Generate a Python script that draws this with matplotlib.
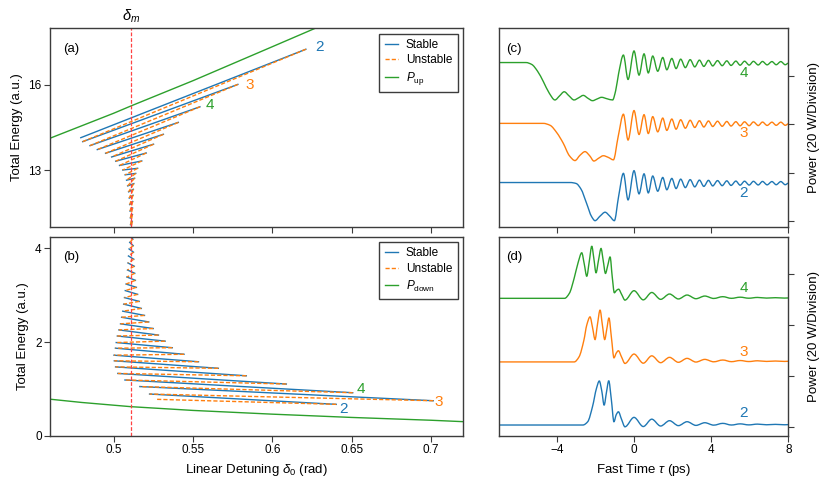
import numpy as np
import matplotlib
matplotlib.use('Agg')
import matplotlib.pyplot as plt
from matplotlib.lines import Line2D
from matplotlib.path import Path
from matplotlib.patches import PathPatch

plt.rcParams['font.family'] = ['Liberation Sans', 'DejaVu Sans']
plt.rcParams['mathtext.fontset'] = 'custom'
plt.rcParams['mathtext.rm'] = 'Liberation Sans'
plt.rcParams['mathtext.it'] = 'Liberation Sans:italic'
plt.rcParams['font.size'] = 8.5

#detuning where the snake collapses
delta_m = 0.5113

#panel (a): turning points of the upper snake (left tips / right tips)
a_left_x = [0.4794, 0.4806, 0.4852, 0.4898, 0.4950, 0.4988, 0.5014, 0.5038, 0.5058, 0.5073,
            0.5082, 0.5089, 0.5095, 0.5099, 0.5102, 0.5104, 0.5106, 0.5107, 0.5108]
a_left_y = [14.14, 14.00, 13.86, 13.72, 13.59, 13.46, 13.31, 13.16, 13.00, 12.83,
            12.64, 12.44, 12.23, 12.01, 11.78, 11.55, 11.31, 11.07, 10.83]
a_right_x = [0.6211, 0.5783, 0.5544, 0.5408, 0.5314, 0.5252, 0.5206, 0.5178, 0.5152, 0.5140,
             0.5133, 0.5128, 0.5125, 0.5123, 0.5121, 0.5120, 0.5119, 0.5118]
a_right_y = [17.26, 16.02, 15.23, 14.68, 14.26, 13.91, 13.60, 13.32, 13.06, 12.88,
             12.71, 12.52, 12.32, 12.11, 11.89, 11.66, 11.43, 11.19]
p_up_x = [0.46, 0.50, 0.511, 0.55, 0.60, 0.627]
p_up_y = [14.12, 15.0, 15.26, 16.15, 17.35, 18.0]

#panel (b): turning points of the lower snake
b_left_x = [0.5105, 0.5102, 0.5098, 0.5094, 0.5091, 0.5088, 0.5084, 0.5079, 0.5074, 0.5069,
            0.5064, 0.5058, 0.5051, 0.5044, 0.5034, 0.5024, 0.5017, 0.5012, 0.5003, 0.5005,
            0.5013, 0.5027, 0.5072, 0.5166, 0.5227, 0.5273]
b_left_y = [4.27, 4.13, 3.99, 3.84, 3.69, 3.54, 3.39, 3.24, 3.10, 2.95,
            2.81, 2.66, 2.53, 2.39, 2.26, 2.13, 1.99, 1.87, 1.72, 1.60,
            1.47, 1.33, 1.19, 1.05, 0.89, 0.777]
b_right_x = [0.5122, 0.5124, 0.5126, 0.5128, 0.5131, 0.5134, 0.5138, 0.5144, 0.5152, 0.5162,
             0.5175, 0.5195, 0.5222, 0.5250, 0.5283, 0.5325, 0.5370, 0.5444, 0.5535, 0.5660,
             0.5836, 0.6088, 0.6506, 0.7013, 0.6402]
b_right_y = [4.20, 4.06, 3.92, 3.77, 3.62, 3.47, 3.32, 3.17, 3.02, 2.87,
             2.72, 2.57, 2.43, 2.29, 2.15, 2.02, 1.88, 1.74, 1.58, 1.44,
             1.28, 1.104, 0.918, 0.747, 0.670]
p_down_x = [0.46, 0.48, 0.511, 0.55, 0.60, 0.65, 0.70, 0.72]
p_down_y = [0.78, 0.71, 0.62, 0.54, 0.46, 0.39, 0.33, 0.30]

#panel (c): dark pulse profiles (W), the oscillating tail is read at peaks and troughs
c_pk_t = [-0.55, 0, 0.52, 0.97, 1.49, 1.96, 2.42, 2.91, 3.39, 3.86, 4.33, 4.81, 5.28, 5.73, 6.19, 6.66, 7.15, 7.61]
c_tr_t = [-0.31, 0.26, 0.74, 1.23, 1.70, 2.18, 2.66, 3.15, 3.62, 4.08, 4.57, 5.03, 5.50, 5.97, 6.44, 6.90, 7.37, 7.84]
c2_head_t = [-7.0, -3.3, -3.0, -2.75, -2.46, -2.2, -2.02, -1.76, -1.5, -1.26, -1.02, -0.8]
c2_head_p = [15.9, 15.9, 15.5, 13.2, 7.3, 1.8, 0.1, 2.0, 3.6, 2.0, 0.1, 10.1]
c2_pk = [19.7, 20.8, 19.5, 18.6, 18.0, 17.6, 17.3, 17.1, 16.9, 16.8, 16.7, 16.6, 16.5, 16.45, 16.4, 16.35, 16.3, 16.3]
c2_tr = [8.7, 11.2, 11.6, 12.3, 12.9, 13.4, 13.8, 14.1, 14.3, 14.5, 14.6, 14.7, 14.8, 14.85, 14.9, 14.95, 15.0, 15.0]
c2_end = 15.6
c3_head_t = [-7.0, -4.7, -4.35, -4.0, -3.67, -3.35, -3.06, -2.8, -2.54, -2.3, -2.08, -1.83, -1.59, -1.33, -1.07, -0.82]
c3_head_p = [40.4, 40.4, 39.6, 36.5, 32.2, 27.0, 25.0, 27.2, 28.7, 27.0, 24.8, 26.0, 27.0, 26.3, 25.3, 35.0]
c3_pk = [44.2, 45.7, 44.0, 43.2, 42.6, 42.2, 41.9, 41.7, 41.5, 41.4, 41.3, 41.2, 41.1, 41.05, 41.0, 40.95, 40.9, 40.9]
c3_tr = [33.5, 35.8, 36.2, 36.9, 37.5, 38.0, 38.4, 38.7, 38.9, 39.1, 39.2, 39.3, 39.4, 39.45, 39.5, 39.55, 39.6, 39.6]
c3_end = 40.2
c4_head_t = [-7.0, -5.6, -5.3, -5.0, -4.7, -4.4, -4.1, -3.86, -3.62, -3.37, -3.11, -2.87, -2.63, -2.39, -2.15,
             -1.92, -1.68, -1.4, -1.11, -0.95, -0.8]
c4_head_p = [65.6, 65.6, 64.8, 62.0, 57.7, 53.0, 50.1, 51.8, 53.5, 51.8, 50.1, 51.0, 52.0, 50.8, 49.8,
             50.5, 51.2, 50.6, 50.1, 54.0, 61.0]
c4_pk = [68.7, 70.4, 69.2, 68.3, 67.7, 67.3, 67.0, 66.8, 66.6, 66.5, 66.4, 66.3, 66.2, 66.15, 66.1, 66.05, 66.0, 66.0]
c4_tr = [58.6, 60.4, 61.3, 62.0, 62.6, 63.1, 63.5, 63.8, 64.0, 64.2, 64.3, 64.4, 64.5, 64.55, 64.6, 64.65, 64.7, 64.7]
c4_end = 65.3

#panel (d): bright pulse profiles (W)
d_tail_t = [-0.47, 0, 0.48, 0.92, 1.38, 1.84, 2.30, 2.75, 3.21, 3.67, 4.13, 4.60, 5.05, 5.50, 5.95, 6.40, 6.87, 7.33, 7.80, 8.0]
d2_head_t = [-7.0, -2.65, -2.4, -2.15, -1.95, -1.80, -1.67, -1.55, -1.43, -1.31, -1.18, -1.04, -0.92, -0.81, -0.65]
d2_head_p = [0.7, 0.7, 2.0, 8.0, 15.0, 18.0, 14.0, 8.5, 13.5, 18.1, 11.0, 2.0, 4.8, 5.9, 3.0]
d2_tail = [0.0, 3.7, 0.1, 3.0, 0.3, 2.4, 0.45, 2.0, 0.55, 1.6, 0.65, 1.35, 0.7, 1.15, 0.75, 1.05, 0.8, 0.95, 0.8, 0.85]
d3_head_t = [-7.0, -3.1, -2.85, -2.6, -2.45, -2.28, -2.15, -2.02, -1.90, -1.76, -1.64, -1.52, -1.41, -1.30,
             -1.17, -1.04, -0.92, -0.81, -0.65]
d3_head_p = [25.5, 25.5, 27.5, 34.0, 40.0, 43.2, 39.0, 34.3, 40.0, 45.9, 40.0, 34.3, 38.5, 42.8,
             35.0, 27.1, 29.0, 29.9, 27.5]
d3_tail = [24.9, 28.6, 25.0, 27.9, 25.2, 27.3, 25.35, 26.9, 25.45, 26.5, 25.55, 26.25, 25.6, 26.05, 25.65, 25.95, 25.7, 25.85, 25.7, 25.75]
d4_head_t = [-7.0, -3.6, -3.35, -3.1, -2.9, -2.71, -2.58, -2.45, -2.32, -2.19, -2.08, -1.97, -1.84, -1.71,
             -1.60, -1.48, -1.36, -1.24, -1.13, -1.02, -0.91, -0.80, -0.64]
d4_head_p = [50.5, 50.5, 52.5, 58.5, 64.5, 68.4, 64.0, 59.2, 65.0, 71.0, 66.0, 60.5, 65.5, 70.1,
             65.5, 60.3, 63.5, 66.8, 59.0, 52.7, 53.6, 54.1, 52.0]
d4_tail = [49.8, 53.5, 49.9, 52.8, 50.1, 52.2, 50.25, 51.8, 50.35, 51.4, 50.45, 51.15, 50.5, 50.95, 50.55, 50.85, 50.6, 50.75, 50.6, 50.65]

BLUE = '#1f77b4'
ORANGE = '#ff7f0e'
GREEN = '#2ca02c'
RED = '#ff4242'
EDGE = '#3c3c3c'
DASH = (0, (3, 1.5))


def style_axes(ax):
    for s in ax.spines.values():
        s.set_color(EDGE)
        s.set_linewidth(1.0)
    ax.tick_params(direction='out', length=4, width=0.8, color=EDGE, labelsize=8.5, pad=2)


def draw_snake(ax, lx, ly, rx, ry):
    #stable branches go from a left tip to a right tip, unstable ones come back
    for k in range(len(rx)):
        ax.plot([lx[k], rx[k]], [ly[k], ry[k]], color=BLUE, lw=1.0)
    for k in range(len(rx)):
        ax.plot([rx[k], lx[k + 1]], [ry[k], ly[k + 1]], color=ORANGE, lw=1.0, ls=DASH)


def smooth_trace(ax, x, y, color):
    #draws the read points as one bezier path (flat at peaks and troughs) so the ripples look round
    x = np.asarray(x, float)
    y = np.asarray(y, float)
    h = np.diff(x)
    d = np.diff(y) / h
    m = np.zeros(len(x))
    for k in range(1, len(x) - 1):
        if d[k - 1] * d[k] > 0:
            w1 = 2 * h[k] + h[k - 1]
            w2 = h[k] + 2 * h[k - 1]
            m[k] = (w1 + w2) / (w1 / d[k - 1] + w2 / d[k])
    verts = [(x[0], y[0])]
    codes = [Path.MOVETO]
    for i in range(len(x) - 1):
        verts.append((x[i] + h[i] / 3, y[i] + m[i] * h[i] / 3))
        verts.append((x[i + 1] - h[i] / 3, y[i + 1] - m[i + 1] * h[i] / 3))
        verts.append((x[i + 1], y[i + 1]))
        codes += [Path.CURVE4] * 3
    ax.add_patch(PathPatch(Path(verts, codes), fill=False, edgecolor=color, lw=1.0, capstyle='round'))


def join_tail(head_t, head_p, pk_t, tr_t, pk, tr, end_p):
    #interleave peaks and troughs of the oscillating tail after the pulse
    t = list(head_t)
    p = list(head_p)
    for k in range(len(pk_t)):
        t += [pk_t[k], tr_t[k]]
        p += [pk[k], tr[k]]
    t.append(8.0)
    p.append(end_p)
    return t, p


def snake_legend(ax, last_label):
    handles = [Line2D([], [], color=BLUE, lw=1.0),
               Line2D([], [], color=ORANGE, lw=1.0, ls=DASH),
               Line2D([], [], color=GREEN, lw=1.0)]
    leg = ax.legend(handles, ['Stable', 'Unstable', last_label], loc='upper right', fontsize=8.5,
                    fancybox=False, framealpha=1, edgecolor=EDGE, handlelength=1.1, handletextpad=0.7,
                    borderaxespad=0.45, labelspacing=0.3, borderpad=0.45)
    leg.get_frame().set_linewidth(1.0)


fig = plt.figure(figsize=(8.3, 4.84), dpi=100)
ax_a = fig.add_axes([0.0602, 0.5316, 0.4976, 0.41])
ax_b = fig.add_axes([0.0602, 0.0998, 0.4976, 0.411])
ax_c = fig.add_axes([0.6012, 0.5316, 0.3486, 0.41])
ax_d = fig.add_axes([0.6012, 0.0998, 0.3486, 0.411])

#panel (a)
draw_snake(ax_a, a_left_x, a_left_y, a_right_x, a_right_y)
ax_a.plot(p_up_x, p_up_y, color=GREEN, lw=1.0)
ax_a.axvline(delta_m, color=RED, lw=0.9, ls=DASH)
ax_a.set_xlim(0.46, 0.72)
ax_a.set_ylim(11, 18)
ax_a.set_yticks([13, 16])
ax_a.set_xticks([0.5, 0.55, 0.6, 0.65, 0.7])
ax_a.set_xticklabels([])
ax_a.set_ylabel('Total Energy (a.u.)', fontsize=9.5)
ax_a.text(delta_m, 18.12, r'$\delta_m$', ha='center', va='bottom', fontsize=10.5)
ax_a.text(0.031, 0.895, '(a)', transform=ax_a.transAxes, fontsize=9.5, va='center')
ax_a.text(0.627, 17.35, '2', color=BLUE, fontsize=11, va='center')
ax_a.text(0.583, 16.0, '3', color=ORANGE, fontsize=11, va='center')
ax_a.text(0.558, 15.28, '4', color=GREEN, fontsize=11, va='center')
snake_legend(ax_a, r'$P_{\rm up}$')
style_axes(ax_a)

#panel (b)
draw_snake(ax_b, b_left_x, b_left_y, b_right_x, b_right_y)
ax_b.plot(p_down_x, p_down_y, color=GREEN, lw=1.0)
ax_b.axvline(delta_m, color=RED, lw=0.9, ls=DASH)
ax_b.set_xlim(0.46, 0.72)
ax_b.set_ylim(0, 4.25)
ax_b.set_yticks([0, 2, 4])
ax_b.set_xticks([0.5, 0.55, 0.6, 0.65, 0.7])
ax_b.set_xticklabels(['0.5', '0.55', '0.6', '0.65', '0.7'])
ax_b.set_ylabel('Total Energy (a.u.)', fontsize=9.5)
ax_b.set_xlabel(r'Linear Detuning $\delta_0$ (rad)', fontsize=9.5)
ax_b.text(0.031, 0.898, '(b)', transform=ax_b.transAxes, fontsize=9.5, va='center')
ax_b.text(0.653, 1.0, '4', color=GREEN, fontsize=11, va='center')
ax_b.text(0.702, 0.73, '3', color=ORANGE, fontsize=11, va='center')
ax_b.text(0.642, 0.58, '2', color=BLUE, fontsize=11, va='center')
snake_legend(ax_b, r'$P_{\rm down}$')
style_axes(ax_b)

#panel (c)
t2, p2 = join_tail(c2_head_t, c2_head_p, c_pk_t, c_tr_t, c2_pk, c2_tr, c2_end)
t3, p3 = join_tail(c3_head_t, c3_head_p, c_pk_t, c_tr_t, c3_pk, c3_tr, c3_end)
t4, p4 = join_tail(c4_head_t, c4_head_p, c_pk_t, c_tr_t, c4_pk, c4_tr, c4_end)
smooth_trace(ax_c, t2, p2, BLUE)
smooth_trace(ax_c, t3, p3, ORANGE)
smooth_trace(ax_c, t4, p4, GREEN)
ax_c.text(5.67, 61.1, '4', color=GREEN, fontsize=11, ha='center', va='center')
ax_c.text(5.67, 36.3, '3', color=ORANGE, fontsize=11, ha='center', va='center')
ax_c.text(5.67, 11.5, '2', color=BLUE, fontsize=11, ha='center', va='center')
ax_c.text(0.024, 0.895, '(c)', transform=ax_c.transAxes, fontsize=9.5, va='center')
ax_c.set_xlim(-7, 8)
ax_c.set_ylim(-2.4, 79.8)
ax_c.set_xticks([-4, 0, 4, 8])
ax_c.set_xticklabels([])
ax_c.set_yticks([0, 20, 40, 60])
ax_c.yaxis.tick_right()
ax_c.set_yticklabels([])
ax_c.yaxis.set_label_position('right')
ax_c.set_ylabel('Power (20 W/Division)', fontsize=9.5, labelpad=8)
style_axes(ax_c)

#panel (d)
smooth_trace(ax_d, d2_head_t + d_tail_t, d2_head_p + d2_tail, BLUE)
smooth_trace(ax_d, d3_head_t + d_tail_t, d3_head_p + d3_tail, ORANGE)
smooth_trace(ax_d, d4_head_t + d_tail_t, d4_head_p + d4_tail, GREEN)
ax_d.text(5.67, 54.4, '4', color=GREEN, fontsize=11, ha='center', va='center')
ax_d.text(5.67, 29.5, '3', color=ORANGE, fontsize=11, ha='center', va='center')
ax_d.text(5.67, 5.3, '2', color=BLUE, fontsize=11, ha='center', va='center')
ax_d.text(0.024, 0.898, '(d)', transform=ax_d.transAxes, fontsize=9.5, va='center')
ax_d.set_xlim(-7, 8)
ax_d.set_ylim(-3.5, 74.7)
ax_d.set_xticks([-4, 0, 4, 8])
ax_d.set_yticks([0, 20, 40, 60])
ax_d.yaxis.tick_right()
ax_d.set_yticklabels([])
ax_d.yaxis.set_label_position('right')
ax_d.set_ylabel('Power (20 W/Division)', fontsize=9.5, labelpad=8)
ax_d.set_xlabel(r'Fast Time $\tau$ (ps)', fontsize=9.5)
style_axes(ax_d)

fig.savefig('out.png', dpi=100)
